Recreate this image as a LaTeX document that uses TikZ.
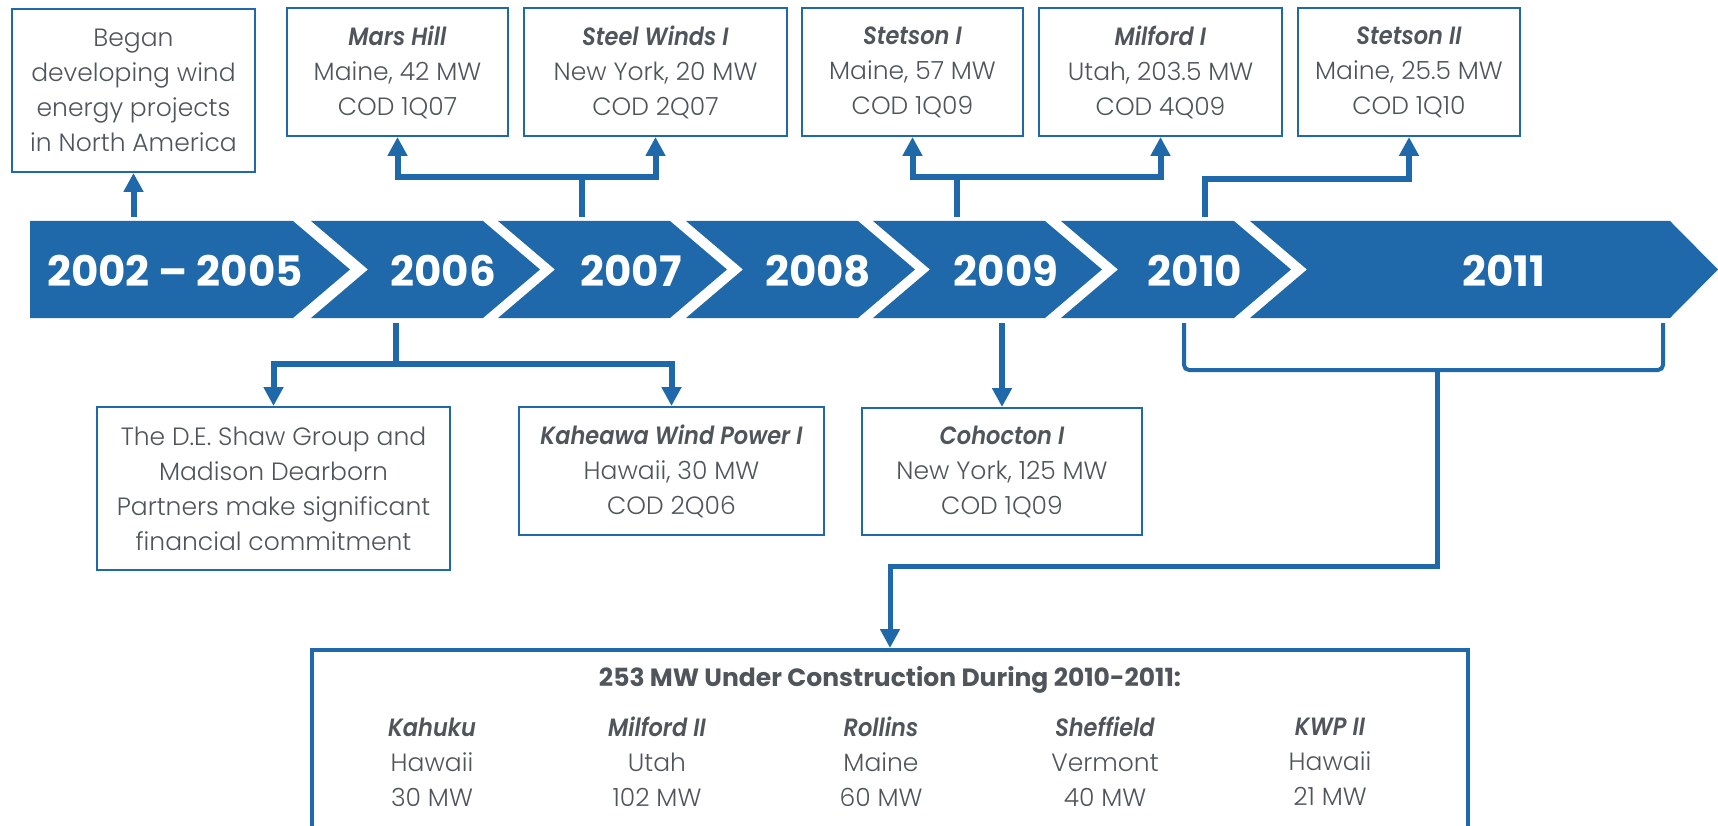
\documentclass[tikz,border=0pt]{standalone}
\usepackage{fontspec}
\setmainfont{Poppins Light}[BoldFont={Poppins Bold},ItalicFont={Poppins Light Italic},BoldItalicFont={Poppins SemiBold Italic},BoldItalicFeatures={FakeStretch=0.9}]
\usetikzlibrary{arrows.meta}
\definecolor{wpblue}{RGB}{31,105,170}
\definecolor{wpgray}{RGB}{80,85,92}
\newcommand\boxfont{\fontsize{25}{35}\selectfont}
\newcommand\yearfont{\fontsize{42}{50}\selectfont\bfseries}
\newcommand\ptitle[1]{\textbf{\textit{#1}}}
\tikzset{
  evbox/.style={rectangle,draw=wpblue,line width=2pt,align=center,text=wpgray,inner sep=0pt,font=\boxfont},
  txt/.style={align=center,text=wpgray,inner sep=0pt,font=\boxfont},
  yearlbl/.style={text=white,inner sep=0pt,font=\yearfont},
  band/.style={fill=wpblue},
  arr/.style={draw=wpblue,line width=6pt,-{Triangle[width=19pt,length=19pt]}},
  brk/.style={draw=wpblue,line width=4pt}
}
\begin{document}
\begin{tikzpicture}[x=1pt,y=-1pt]
  \useasboundingbox (0,0) rectangle (1718,826);
  \clip (0,0) rectangle (1718,826);
  % draw timeline chevrons
  \fill[band](30,221) -- (293,221) -- (350,269.5) -- (293,318) -- (30,318) -- cycle;
  \fill[band](311,221) -- (483,221) -- (540,269.5) -- (483,318) -- (311,318) -- (368,269.5) -- cycle;
  \fill[band](498,221) -- (670,221) -- (727,269.5) -- (670,318) -- (498,318) -- (555,269.5) -- cycle;
  \fill[band](686,221) -- (858,221) -- (915,269.5) -- (858,318) -- (686,318) -- (743,269.5) -- cycle;
  \fill[band](873,221) -- (1045,221) -- (1102,269.5) -- (1045,318) -- (873,318) -- (930,269.5) -- cycle;
  \fill[band](1061,221) -- (1234,221) -- (1291,269.5) -- (1234,318) -- (1061,318) -- (1118,269.5) -- cycle;
  \fill[band](1250,221) -- (1670,221) -- (1718,269.5) -- (1670,318) -- (1250,318) -- (1307,269.5) -- cycle;
  % draw years
  \node at(175,271)[yearlbl](y2005){2002 – 2005};
  \node at(443,271)[yearlbl](y2006){2006};
  \node at(631,271)[yearlbl](y2007){2007};
  \node at(818,271)[yearlbl](y2008){2008};
  \node at(1006,271)[yearlbl](y2009){2009};
  \node at(1195,271)[yearlbl](y2010){2010};
  \node at(1504,271)[yearlbl](y2011){2011};
  % draw boxes above the timeline
  \node at(133.5,90.5)[evbox,minimum width=243,minimum height=163](began){Began\\developing wind\\energy projects\\in North America};
  \node at(397.5,72)[evbox,minimum width=221,minimum height=128](marshill){\ptitle{Mars Hill}\\Maine, 42 MW\\COD 1Q07};
  \node at(655.5,72)[evbox,minimum width=263,minimum height=128](steelwinds){\ptitle{Steel Winds I}\\New York, 20 MW\\COD 2Q07};
  \node at(912.5,72)[evbox,minimum width=221,minimum height=128](stetsonone){\ptitle{Stetson I}\\Maine, 57 MW\\COD 1Q09};
  \node at(1160.5,72)[evbox,minimum width=243,minimum height=128](milfordone){\ptitle{Milford I}\\Utah, 203.5 MW\\COD 4Q09};
  \node at(1409,72)[evbox,minimum width=222,minimum height=128](stetsontwo){\ptitle{Stetson II}\\Maine, 25.5 MW\\COD 1Q10};
  % draw boxes below the timeline
  \node at(273.5,488.5)[evbox,minimum width=353,minimum height=163](deshaw){The D.E. Shaw Group and\\Madison Dearborn\\Partners make significant\\financial commitment};
  \node at(671.5,471)[evbox,minimum width=305,minimum height=128](kaheawa){\ptitle{Kaheawa Wind Power I}\\Hawaii, 30 MW\\COD 2Q06};
  \node at(1002,471.5)[evbox,minimum width=280,minimum height=127](cohocton){\ptitle{Cohocton I}\\New York, 125 MW\\COD 1Q09};
  % draw construction box
  \node at(890,765)[evbox,line width=4pt,minimum width=1156,minimum height=230](constr){};
  \node at(890,680)[txt,font=\boxfont\bfseries](ctitle){253 MW Under Construction During 2010-2011:};
  \node at(432,762)[txt](kahuku){\ptitle{Kahuku}\\Hawaii\\30 MW};
  \node at(657,762)[txt](milfordtwo){\ptitle{Milford II}\\Utah\\102 MW};
  \node at(881,762)[txt](rollins){\ptitle{Rollins}\\Maine\\60 MW};
  \node at(1105,762)[txt](sheffield){\ptitle{Sheffield}\\Vermont\\40 MW};
  \node at(1330,762)[txt](kwptwo){\ptitle{KWP II}\\Hawaii\\21 MW};
  % draw arrows up from the timeline
  \coordinate (b2005) at(133.5,217);
  \coordinate (b2007) at(582,217);
  \coordinate (t2007) at(582,177);
  \coordinate (b2009) at(957,217);
  \coordinate (t2009) at(957,177);
  \coordinate (b2010) at(1205,217);
  \coordinate (t2010) at(1205,179);
  \draw[arr](b2005) -- (began.south);
  \draw[arr](b2007) -- (t2007) -| (marshill.south);
  \draw[arr](t2007) -| (steelwinds.south);
  \draw[arr](b2009) -- (t2009) -| (stetsonone.south);
  \draw[arr](t2009) -| (milfordone.south);
  \draw[arr](b2010) -- (t2010) -| (stetsontwo.south);
  % draw arrows down from the timeline
  \coordinate (u2006) at(396,323);
  \coordinate (v2006) at(396,364);
  \coordinate (u2009) at(1002,323);
  \draw[arr](u2006) -- (v2006) -| (deshaw.north);
  \draw[arr](v2006) -| (kaheawa.north);
  \draw[arr](u2009) -- (cohocton.north);
  % draw 2010-2011 bracket
  \coordinate (u2010) at(1184,323);
  \coordinate (u2011) at(1663,323);
  \coordinate (k2010) at(1437,370);
  \coordinate (h2010) at(1437,566);
  \draw[brk,rounded corners=5pt](u2010) |- (k2010) -| (u2011);
  \draw[arr,line width=5pt](k2010) -- (h2010) -| (constr.north);
\end{tikzpicture}
\end{document}
